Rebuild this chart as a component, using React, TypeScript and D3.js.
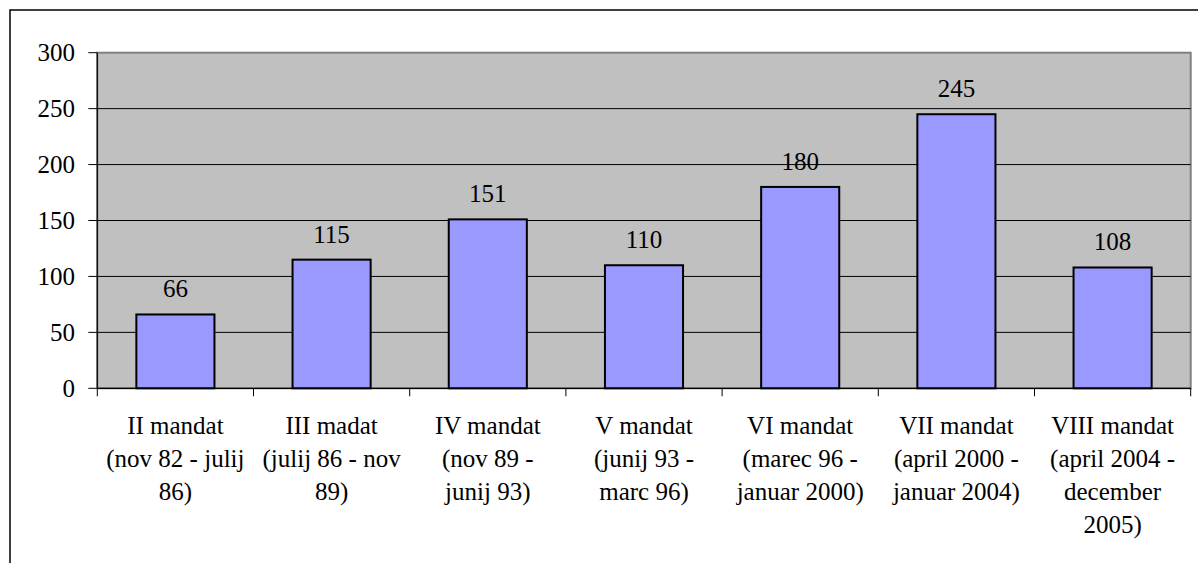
import React from "react";
import * as d3 from "d3";

const categories: string[][] = [
  ["II mandat", "(nov 82 - julij", "86)"],
  ["III madat", "(julij 86 - nov", "89)"],
  ["IV mandat", "(nov 89 -", "junij 93)"],
  ["V mandat", "(junij 93 -", "marc 96)"],
  ["VI mandat", "(marec 96 -", "januar 2000)"],
  ["VII mandat", "(april 2000 -", "januar 2004)"],
  ["VIII mandat", "(april 2004 -", "december", "2005)"],
];
const values: number[] = [66, 115, 151, 110, 180, 245, 108];
const yTicks: number[] = [0, 50, 100, 150, 200, 250, 300];

const W = 1198;
const H = 563;
const FONT = "'Liberation Serif', 'Times New Roman', serif";

export default function App() {
  const left = 97.3;
  const right = 1190.7;
  const top = 52.7;
  const bottom = 388.3;
  const idx = values.map((_, i) => String(i));

  const y = d3.scaleLinear().domain([0, 300]).range([bottom, top]);
  const xBar = d3
    .scaleBand<string>()
    .domain(idx)
    .range([left, right])
    .paddingInner(0.5)
    .paddingOuter(0.25);
  const xCat = d3.scaleBand<string>().domain(idx).range([left, right]).padding(0);
  const boundaries = [...idx.map((i) => xCat(i)!), right];

  return (
    <svg
      width={W}
      height={H}
      style={{ position: "absolute", left: 0, top: 0, display: "block", background: "#fff" }}
      fontFamily={FONT}
    >
      <rect x={10} y={10} width={1400} height={800} fill="#fff" stroke="#000" strokeWidth={1.5} />
      <rect
        x={left}
        y={top}
        width={right - left}
        height={bottom - top}
        fill="#C0C0C0"
        stroke="#808080"
        strokeWidth={2}
      />
      {yTicks
        .filter((t) => t > 0 && t < 300)
        .map((t) => (
          <line key={"g" + t} x1={left} x2={right} y1={y(t)} y2={y(t)} stroke="#000" strokeWidth={1} />
        ))}
      {values.map((v, i) => (
        <rect
          key={"b" + i}
          x={xBar(String(i))!}
          y={y(v)}
          width={xBar.bandwidth()}
          height={bottom - y(v)}
          fill="#9999FF"
          stroke="#000"
          strokeWidth={2}
        />
      ))}
      <line x1={left} x2={left} y1={top} y2={bottom} stroke="#000" strokeWidth={1.2} />
      <line x1={left} x2={right} y1={bottom} y2={bottom} stroke="#000" strokeWidth={1.2} />
      {yTicks.map((t) => (
        <g key={"yt" + t}>
          <line x1={left - 9} x2={left} y1={y(t)} y2={y(t)} stroke="#000" strokeWidth={1} />
          <text x={75} y={y(t)} dy="0.34em" textAnchor="end" fontSize={25} fill="#000">
            {t}
          </text>
        </g>
      ))}
      {boundaries.map((bx, i) => (
        <line key={"xt" + i} x1={bx} x2={bx} y1={bottom} y2={bottom + 8} stroke="#000" strokeWidth={1} />
      ))}
      {values.map((v, i) => (
        <text
          key={"l" + i}
          x={xBar(String(i))! + xBar.bandwidth() / 2}
          y={y(v) - 17}
          textAnchor="middle"
          fontSize={25}
          fill="#000"
        >
          {v}
        </text>
      ))}
      {categories.map((lines, i) => (
        <text
          key={"c" + i}
          x={xCat(String(i))! + xCat.bandwidth() / 2}
          y={433.5}
          textAnchor="middle"
          fontSize={25}
          fill="#000"
        >
          {lines.map((ln, j) => (
            <tspan key={j} x={xCat(String(i))! + xCat.bandwidth() / 2} dy={j === 0 ? 0 : 33}>
              {ln}
            </tspan>
          ))}
        </text>
      ))}
    </svg>
  );
}
